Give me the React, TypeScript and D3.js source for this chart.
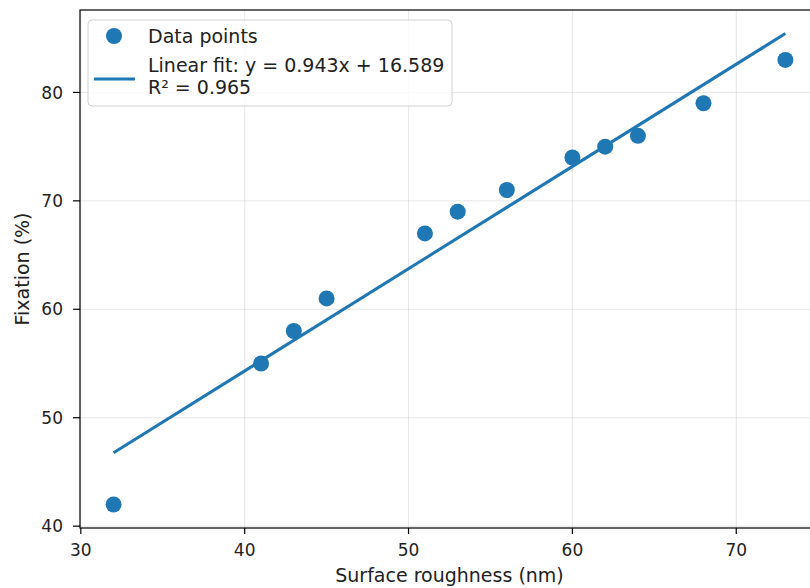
import React from 'react';
import { scaleLinear, line } from 'd3';

const roughness = [32, 41, 43, 45, 51, 53, 56, 60, 62, 64, 68, 73];
const fixation = [42, 55, 58, 61, 67, 69, 71, 74, 75, 76, 79, 83];
const fitX = [32, 73];
const fitY = [46.77, 85.43];
const xTicks = [30, 40, 50, 60, 70];
const yTicks = [40, 50, 60, 70, 80];
const legendLabels = ['Data points', 'Linear fit: y = 0.943x + 16.589', 'R² = 0.965'];

const W = 810;
const H = 588;
const blue = '#1f77b4';
const font = 'DejaVu Sans, sans-serif';

const App = () => {
  const left = 80;
  const right = 819;
  const top = 10;
  const bottom = 528;

  const x = scaleLinear().domain([29.95, 75.05]).range([left, right]);
  const y = scaleLinear().domain([39.83, 87.6]).range([bottom, top]);

  const fitLine = line<number>()
    .x(d => x(fitX[d]))
    .y(d => y(fitY[d]));

  return (
    <div style={{ position: 'fixed', left: 0, top: 0 }}>
      <svg width={W} height={H} style={{ display: 'block', background: '#fff' }}>
        {/* grid */}
        {xTicks.map(t => (
          <line key={'gx' + t} x1={x(t)} x2={x(t)} y1={top} y2={bottom} stroke="#b0b0b0" strokeOpacity={0.3} strokeWidth={1} />
        ))}
        {yTicks.map(t => (
          <line key={'gy' + t} x1={left} x2={right} y1={y(t)} y2={y(t)} stroke="#b0b0b0" strokeOpacity={0.3} strokeWidth={1} />
        ))}

        {/* fit line */}
        <path d={fitLine([0, 1]) || ''} fill="none" stroke={blue} strokeWidth={3} />

        {/* points */}
        {roughness.map((r, i) => (
          <circle key={i} cx={x(r)} cy={y(fixation[i])} r={8} fill={blue} />
        ))}

        {/* spines */}
        <rect x={left} y={top} width={right - left} height={bottom - top} fill="none" stroke="#000" strokeWidth={1.2} />

        {/* x ticks */}
        {xTicks.map(t => (
          <g key={'xt' + t} transform={`translate(${x(t)},${bottom})`}>
            <line y1={0} y2={6} stroke="#000" strokeWidth={1.2} />
            <text y={28} textAnchor="middle" fontFamily={font} fontSize={17} fill="#222">{t}</text>
          </g>
        ))}
        {/* y ticks */}
        {yTicks.map(t => (
          <g key={'yt' + t} transform={`translate(${left},${y(t)})`}>
            <line x1={0} x2={-7} stroke="#000" strokeWidth={1.2} />
            <text x={-17} dy="0.36em" textAnchor="end" fontFamily={font} fontSize={17} fill="#222">{t}</text>
          </g>
        ))}

        {/* axis labels */}
        <text x={(left + right) / 2} y={582} textAnchor="middle" fontFamily={font} fontSize={19} fill="#222">Surface roughness (nm)</text>
        <text transform={`translate(29,${(top + bottom) / 2}) rotate(-90)`} textAnchor="middle" fontFamily={font} fontSize={19} fill="#222">Fixation (%)</text>

        {/* legend */}
        <g>
          <rect x={88} y={20} width={364} height={86} rx={4} fill="#fff" fillOpacity={0.8} stroke="#d0d0d0" strokeWidth={1} />
          <circle cx={114} cy={36} r={8} fill={blue} />
          <line x1={94} x2={135} y1={79} y2={79} stroke={blue} strokeWidth={3} />
          <text x={148} y={43} fontFamily={font} fontSize={19} fill="#222">{legendLabels[0]}</text>
          <text x={148} y={72} fontFamily={font} fontSize={19} fill="#222">{legendLabels[1]}</text>
          <text x={148} y={94} fontFamily={font} fontSize={19} fill="#222">{legendLabels[2]}</text>
        </g>
      </svg>
    </div>
  );
};

export default App;
